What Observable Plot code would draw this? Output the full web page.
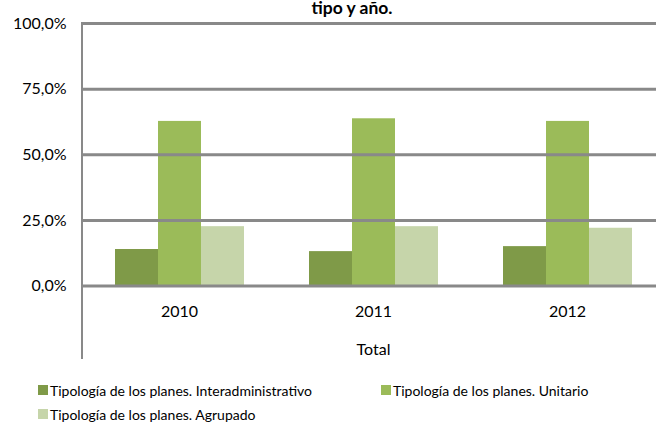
<!DOCTYPE html>
<html>
<head>
<meta charset="utf-8">
<script src="https://cdn.jsdelivr.net/npm/d3@7"></script>
<script src="https://cdn.jsdelivr.net/npm/@observablehq/plot@0.6"></script>
<style>
  html, body { margin: 0; padding: 0; background: #fff; overflow: hidden; width: 656px; height: 422px; }
  #wrap { position: relative; width: 656px; height: 422px; overflow: hidden; font-family: Lato, "Open Sans", sans-serif; }
  #title { position: absolute; left: 0; top: -2px; width: 656px; padding-left: 48px; box-sizing: border-box; text-align: center; font-weight: bold; font-size: 17.5px; line-height: 19px; color: #000; }
  #chart { position: absolute; left: 0; top: 0; width: 656px; overflow: hidden; }
  #legend { position: absolute; left: 38px; top: 378px; width: 618px; font-size: 14px; color: #000; }
  .item { display: inline-flex; align-items: center; height: 24px; white-space: nowrap; }
  .item.first { width: 343px; }
  .sw { width: 10px; height: 10px; margin-right: 2px; display: inline-block; }
</style>
</head>
<body>
<div id="wrap">
  <div id="chart"></div>
  <div id="title">tipo y año.</div>
  <div id="legend"></div>
</div>
<script>
const years = ["2010", "2011", "2012"];
const series = [
  "Tipología de los planes. Interadministrativo",
  "Tipología de los planes. Unitario",
  "Tipología de los planes. Agrupado"
];
const interadministrativo = [0.139, 0.131, 0.150];
const unitario = [0.627, 0.637, 0.627];
const agrupado = [0.226, 0.226, 0.220];
const colors = ["#7f9a48", "#9bbb59", "#c6d5aa"];
const yTicks = [0, 0.25, 0.5, 0.75, 1];
const xTitle = "Total";

const valuesBySeries = [interadministrativo, unitario, agrupado];
const data = [];
years.forEach((yr, i) => {
  series.forEach((s, k) => data.push({year: yr, series: s, value: valuesBySeries[k][i]}));
});

const fmt = d => (d * 100).toFixed(1).replace(".", ",") + "%";

const H = 372, MT = 23, MB = 86.5;
const plot = Plot.plot({
  width: 656,
  height: H,
  marginTop: MT,
  marginLeft: 82,
  marginRight: -8,
  marginBottom: MB,
  style: {fontFamily: "Lato, 'Open Sans', sans-serif", fontSize: "16px", color: "#000", background: "transparent", overflow: "hidden"},
  facet: {data, x: "year"},
  fx: {domain: years, padding: 0, label: xTitle, labelAnchor: "center", tickSize: 0, tickPadding: 19.5, labelOffset: 68.5},
  x: {domain: series, axis: null, paddingInner: 0, paddingOuter: 0.75},
  y: {domain: [0, 1], range: [H - MB, MT], ticks: yTicks, tickFormat: fmt, tickSize: 0, tickPadding: 16, label: null},
  color: {domain: series, range: colors},
  marks: [
    Plot.barY(data, {x: "series", y: "value", fill: "series"}),
    Plot.ruleY(yTicks, {stroke: "#898989", strokeWidth: 3})
  ]
});
document.getElementById("chart").appendChild(plot);

// left axis line, extending down through the category label area (as in Excel)
const svg = plot.tagName.toLowerCase() === "svg" ? plot : plot.querySelector("svg");
const ys = plot.scale("y");
const y0 = ys.apply(0), y1 = ys.apply(1);
d3.select(svg).append("line")
  .attr("x1", 82).attr("x2", 82)
  .attr("y1", y1 - 1).attr("y2", y0 + 73.5)
  .attr("stroke", "#898989").attr("stroke-width", 2);

const legend = document.getElementById("legend");
series.forEach((s, k) => {
  const it = document.createElement("span");
  it.className = "item" + (k % 2 === 0 ? " first" : "");
  it.innerHTML = `<span class="sw" style="background:${colors[k]}"></span>${s}`;
  legend.appendChild(it);
});
</script>
</body>
</html>
